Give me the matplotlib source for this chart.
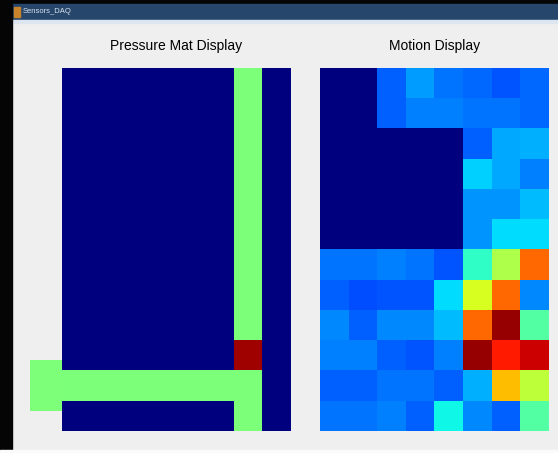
import matplotlib
matplotlib.use("Agg")
import matplotlib.pyplot as plt
from matplotlib.patches import Rectangle
import numpy as np

# ---- data ----
titles = ["Pressure Mat Display", "Motion Display"]
window_title = "Sensors_DAQ"

# Pressure mat: 12 rows x 8 columns (jet scale 0..1)
pressure = [
    [0, 0, 0, 0, 0, 0, 0.5, 0],
    [0, 0, 0, 0, 0, 0, 0.5, 0],
    [0, 0, 0, 0, 0, 0, 0.5, 0],
    [0, 0, 0, 0, 0, 0, 0.5, 0],
    [0, 0, 0, 0, 0, 0, 0.5, 0],
    [0, 0, 0, 0, 0, 0, 0.5, 0],
    [0, 0, 0, 0, 0, 0, 0.5, 0],
    [0, 0, 0, 0, 0, 0, 0.5, 0],
    [0, 0, 0, 0, 0, 0, 0.5, 0],
    [0, 0, 0, 0, 0, 0, 0.97, 0],
    [0.5, 0.5, 0.5, 0.5, 0.5, 0.5, 0.5, 0],
    [0, 0, 0, 0, 0, 0, 0.5, 0],
]
# extra sensor pad drawn left of the mat (column span, row span, value)
pad_cols = (-1.62, -0.5)
pad_rows = (9.15, 10.84)
pad_value = 0.5

# Motion display: 12 rows x 8 columns
motion = [
    [0, 0, 0.22, 0.28, 0.24, 0.23, 0.21, 0.23],
    [0, 0, 0.22, 0.25, 0.25, 0.24, 0.24, 0.23],
    [0, 0, 0, 0, 0, 0.22, 0.29, 0.30],
    [0, 0, 0, 0, 0, 0.33, 0.29, 0.25],
    [0, 0, 0, 0, 0, 0.27, 0.27, 0.31],
    [0, 0, 0, 0, 0, 0.27, 0.34, 0.34],
    [0.24, 0.24, 0.25, 0.24, 0.21, 0.41, 0.56, 0.80],
    [0.22, 0.20, 0.21, 0.21, 0.34, 0.61, 0.80, 0.26],
    [0.26, 0.22, 0.26, 0.26, 0.31, 0.80, 0.98, 0.45],
    [0.25, 0.25, 0.22, 0.21, 0.25, 0.98, 0.88, 0.93],
    [0.22, 0.22, 0.24, 0.24, 0.22, 0.30, 0.71, 0.58],
    [0.24, 0.24, 0.25, 0.22, 0.37, 0.26, 0.22, 0.45],
]

W, H = 558, 453
fig = plt.figure(figsize=(W / 100, H / 100), dpi=100)
fig.patch.set_facecolor("#efefef")

# window chrome
def frect(x0, y0, x1, y1, color, z=0):
    fig.patches.append(Rectangle((x0 / W, 1 - y1 / H), (x1 - x0) / W, (y1 - y0) / H,
                                 transform=fig.transFigure, color=color, zorder=z))

frect(0, 0, W, 4, "#050505")
frect(0, 4, W, 20, "#27466b")
frect(0, 20, W, 23, "#dde6f0")
frect(0, 0, 12, H, "#050505")
frect(0, 450, W, H, "#fbfbfb")
frect(14, 7, 20, 17, "#c9832a")
fig.text(23 / W, 1 - 11.5 / H, window_title, color="#d8e2ee", fontsize=5.5,
         family="Liberation Sans", va="center", ha="left")

cmap = plt.get_cmap("jet")
axes_px = [(62, 291), (320, 549)]
for (x0, x1), title, data in zip(axes_px, titles, [pressure, motion]):
    ax = fig.add_axes([x0 / W, (H - 431) / H, (x1 - x0) / W, (431 - 68) / H])
    ax.imshow(np.array(data), cmap=cmap, vmin=0, vmax=1, aspect="auto",
              interpolation="nearest")
    ax.set_axis_off()
    ax.set_title(title, fontsize=10, family="Liberation Sans", pad=13)
    if data is pressure:
        ax.add_patch(Rectangle((pad_cols[0], pad_rows[0]), pad_cols[1] - pad_cols[0],
                               pad_rows[1] - pad_rows[0], color=cmap(pad_value),
                               clip_on=False, lw=0))

fig.savefig("out.png", dpi=100, facecolor=fig.get_facecolor())
